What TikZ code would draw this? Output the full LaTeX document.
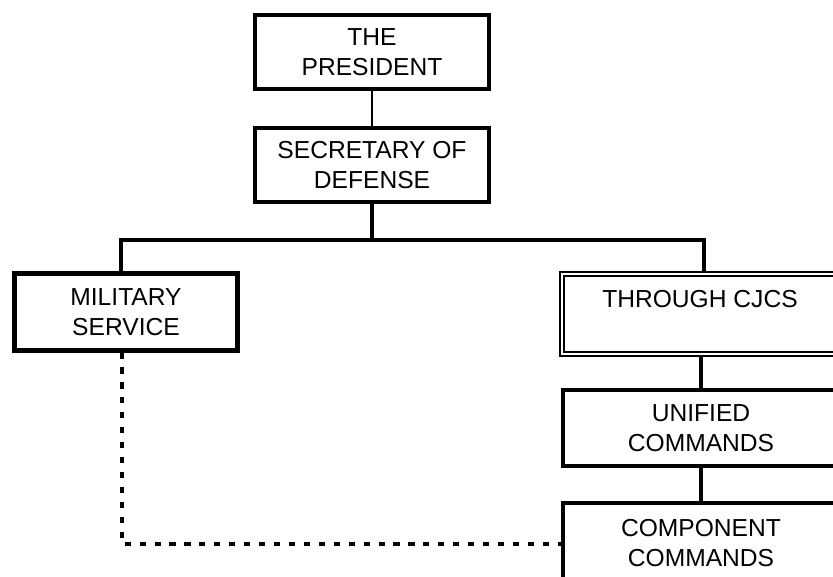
\documentclass[tikz,border=0pt]{standalone}
\usepackage{fontspec}
\setmainfont{Liberation Sans}
\usepackage{tikz}

\tikzset{
  orgbox/.style={draw, line width=2.3pt, align=center, inner sep=0pt,
    font=\fontsize{14}{16.7}\selectfont},
  dblbox/.style={orgbox, line width=1.1pt, double, double distance=1.2pt},
  thick link/.style={line width=2.3pt},
  thin link/.style={line width=1.1pt},
  dot link/.style={line width=2.2pt, dash pattern=on 3.5pt off 5pt}
}

\begin{document}
\begin{tikzpicture}[x=0.02cm, y=-0.02cm]
\useasboundingbox (0,0) rectangle (833,577);
% Boxes
\node[orgbox, minimum width=234*0.02cm, minimum height=74*0.02cm] (pres) at (372,52) {THE\\PRESIDENT};
\node[orgbox, minimum width=234*0.02cm, minimum height=74*0.02cm] (sec) at (372,165) {SECRETARY OF\\DEFENSE};
\node[orgbox, minimum width=223*0.02cm, minimum height=77*0.02cm] (mil) at (126,312) {MILITARY\\SERVICE};
\node[dblbox, minimum width=276*0.02cm, minimum height=80*0.02cm] (cjcs) at (700,314) {THROUGH CJCS\\~};
\node[orgbox, minimum width=276*0.02cm, minimum height=76*0.02cm] (uni) at (701,428) {UNIFIED\\COMMANDS};
\node[orgbox, minimum width=276*0.02cm, minimum height=80*0.02cm] (comp) at (701,543) {COMPONENT\\COMMANDS};
% Links
\coordinate (lt) at (121,240);
\coordinate (rt) at (704,240);
\coordinate (dl) at (122,544);
\draw[thin link] (pres.south) -- (sec.south |- pres.south) -- (sec.north);
\draw[thick link] (sec.south) -- (sec.south |- lt);
\draw[thick link] (mil.north -| lt) -- (lt) -- (rt) -- (cjcs.north -| rt);
\draw[thick link] (cjcs.south -| uni.north) -- (uni.north);
\draw[thick link] (uni.south) -- (comp.north);
\draw[dot link] (mil.south -| dl) -- (dl) -- (comp.west |- dl);
\end{tikzpicture}
\end{document}
